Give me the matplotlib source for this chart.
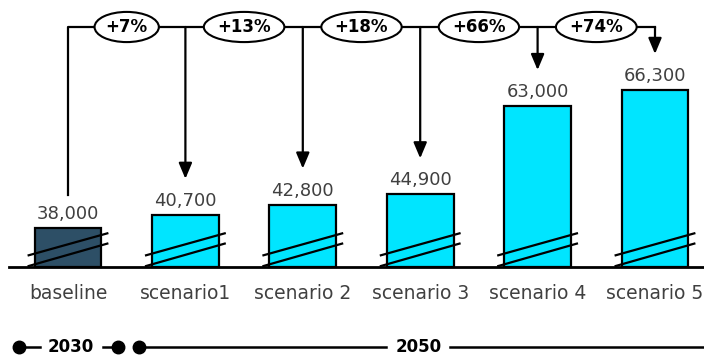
from matplotlib import pyplot as plt

categories = ["baseline", "scenario1", "scenario 2", "scenario 3", "scenario 4", "scenario 5"]
values = [38000, 40700, 42800, 44900, 63000, 66300]
value_labels = ["38,000", "40,700", "42,800", "44,900", "63,000", "66,300"]
pct_labels = ["+7%", "+13%", "+18%", "+66%", "+74%"]
years = ["2030", "2050"]

BASE = 30000          # broken axis starts here
DARK = "#2d4f66"
CYAN = "#00e5ff"
GREY = "#404040"
UNIT = 205            # value units per pixel

fig = plt.figure(figsize=(7.04, 3.56), dpi=100)
ax = fig.add_axes([0, 0, 1, 1])
ax.set_xlim(-68 / 117.4, (704 - 68) / 117.4)
ax.set_ylim(BASE - 89 * UNIT, BASE + 267 * UNIT)
ax.axis("off")

xs = list(range(len(values)))
width = 0.57
colors = [DARK] + [CYAN] * (len(values) - 1)
heights = [v - BASE for v in values]
ax.bar(xs, heights, bottom=BASE, width=width, color=colors,
       edgecolor="black", linewidth=1.6, zorder=2)

# axis line
ax.axhline(BASE, xmin=9 / 704, xmax=1, color="black", lw=2, zorder=3)

# broken-axis slashes
ext = 0.05
for x in xs:
    x0, x1 = x - width / 2 - ext, x + width / 2 + ext
    ax.plot([x0, x1], [32400, 36900], color="black", lw=1.6, zorder=4)
    ax.plot([x0, x1], [30200, 34800], color="black", lw=1.6, zorder=4)

# value and category labels
for x, v, lab, cat in zip(xs, values, value_labels, categories):
    ax.annotate(lab, (x, v), xytext=(0, 6.5), textcoords="offset points",
                ha="center", va="baseline", fontsize=13, color=GREY)
    ax.annotate(cat, (x, BASE), xytext=(0, -23), textcoords="offset points",
                ha="center", va="baseline", fontsize=13.5, color=GREY)

# bracket with arrows
top = BASE + (267 - 27) * UNIT
gap = 36 * UNIT
ax.plot([0, 0, xs[-1]], [values[0] + 33 * UNIT, top, top], color="black", lw=1.6, zorder=1)
for x, v in zip(xs[1:], values[1:]):
    ax.annotate("", xy=(x, v + gap), xytext=(x, top),
                arrowprops=dict(arrowstyle="-|>,head_length=0.95,head_width=0.4",
                                color="black", lw=1.6, shrinkA=0, shrinkB=0))
for i, p in enumerate(pct_labels):
    ax.text(i + 0.5, top, p, ha="center", va="center", fontsize=12,
            fontweight="bold", color="black", zorder=5,
            bbox=dict(boxstyle="ellipse,pad=0.1", fc="white", ec="black", lw=1.5))

# timeline
ty = 1 - 347 / 356
tl = dict(color="black", lw=1.8, transform=ax.transAxes)
ax.plot([19 / 704, 40 / 704], [ty, ty], **tl)
ax.plot([103 / 704, 118 / 704], [ty, ty], **tl)
ax.plot([139 / 704, 386 / 704], [ty, ty], **tl)
ax.plot([450 / 704, 1], [ty, ty], **tl)
ax.plot([19 / 704, 118 / 704, 139 / 704], [ty] * 3, "o", color="black",
        ms=9, transform=ax.transAxes)
ax.text(71 / 704, ty, years[0], transform=ax.transAxes, ha="center", va="center",
        fontsize=12, fontweight="bold")
ax.text(419 / 704, ty, years[1], transform=ax.transAxes, ha="center", va="center",
        fontsize=12, fontweight="bold")

fig.savefig("out.png", dpi=100)
